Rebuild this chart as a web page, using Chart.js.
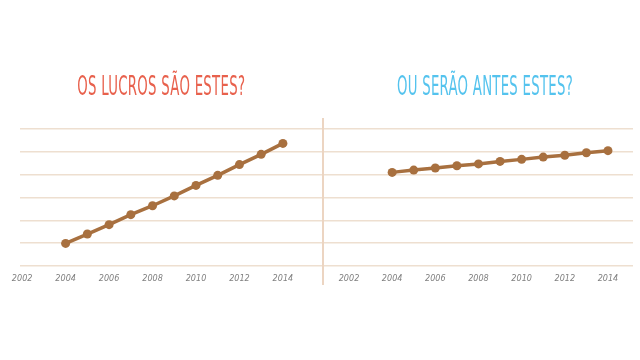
<!DOCTYPE html>
<html>
<head>
<meta charset="utf-8">
<script src="https://cdn.jsdelivr.net/npm/chart.js@4/dist/chart.umd.min.js"></script>
<style>
  html, body { margin: 0; padding: 0; background: #ffffff; }
  #wrap { position: relative; width: 640px; height: 360px; overflow: hidden; }
  .cv { position: absolute; top: 0; }
  .title { position: absolute; top: 70px; font-family: 'Liberation Sans Narrow', 'DejaVu Sans Condensed', 'Liberation Sans', sans-serif; font-size: 27px; letter-spacing: 0.5px; white-space: nowrap; transform-origin: center; }
  #sep { position: absolute; left: 322px; top: 118px; width: 1.5px; height: 167px; background: #ecd5c2; }
</style>
</head>
<body>
<div id="wrap">
  <canvas id="c1" class="cv" width="322" height="360" style="left:0px;width:322px;height:360px"></canvas>
  <canvas id="c2" class="cv" width="318" height="360" style="left:322px;width:318px;height:360px"></canvas>
  <div id="sep"></div>
  <div class="title" id="t1" style="color:#e8614d;">OS LUCROS SÃO ESTES?</div>
  <div class="title" id="t2" style="color:#54c3ee;">OU SERÃO ANTES ESTES?</div>
</div>
<script>
const years = [2004, 2005, 2006, 2007, 2008, 2009, 2010, 2011, 2012, 2013, 2014];
const lucrosA = [0.99, 1.40, 1.81, 2.25, 2.64, 3.07, 3.53, 3.97, 4.44, 4.89, 5.37];
const lucrosB = [4.10, 4.20, 4.29, 4.39, 4.47, 4.58, 4.67, 4.77, 4.85, 4.96, 5.05];
const tickYears = [2002, 2004, 2006, 2008, 2010, 2012, 2014];
const titleA = 'OS LUCROS SÃO ESTES?';
const titleB = 'OU SERÃO ANTES ESTES?';

document.getElementById('t1').textContent = titleA;
document.getElementById('t2').textContent = titleB;

const lineColor = '#a8703f';
const gridColor = '#eedfd0';

function makeChart(id, values, xmin, xmax, padL, padR) {
  return new Chart(document.getElementById(id), {
    type: 'line',
    data: {
      datasets: [{
        data: years.map((y, i) => ({ x: y, y: values[i] })),
        borderColor: lineColor,
        backgroundColor: lineColor,
        borderWidth: 3.5,
        pointRadius: 4.5,
        pointHoverRadius: 4.5,
        pointBackgroundColor: lineColor,
        pointBorderWidth: 0,
        tension: 0,
        clip: false
      }]
    },
    options: {
      responsive: false,
      animation: false,
      layout: { autoPadding: false, padding: { left: padL, right: padR, top: 129, bottom: 69 } },
      plugins: { legend: { display: false }, tooltip: { enabled: false } },
      scales: {
        x: {
          type: 'linear',
          min: xmin,
          max: xmax,
          grid: { display: false, drawTicks: false },
          border: { display: false },
          afterBuildTicks: s => { s.ticks = tickYears.map(v => ({ value: v })); },
          afterFit: s => { s.height = 25; s.paddingLeft = 0; s.paddingRight = 0; },
          ticks: {
            padding: 7,
            color: '#808080',
            autoSkip: false,
            maxRotation: 0,
            font: { family: "'Liberation Sans Narrow', 'DejaVu Sans Condensed', sans-serif", size: 9, style: 'italic' },
            callback: v => String(v)
          }
        },
        y: {
          min: 0,
          max: 6,
          ticks: { display: false, stepSize: 1 },
          grid: { color: gridColor, lineWidth: 1.5, drawTicks: false },
          border: { display: false },
          afterFit: s => { s.width = 0; s.paddingTop = 0; s.paddingBottom = 0; }
        }
      }
    }
  });
}

makeChart('c1', lucrosA, 2001.9, 2015.8, 20, 0);
makeChart('c2', lucrosB, 2000.75, 2015.16, 0, 7);

function placeTitle(id, cx, w) {
  const el = document.getElementById(id);
  const r = el.getBoundingClientRect();
  const sx = w / r.width;
  el.style.left = (cx - r.width / 2) + 'px';
  el.style.transform = 'scaleX(' + sx + ')';
}
placeTitle('t1', 161, 168);
placeTitle('t2', 485, 176);
</script>
</body>
</html>
